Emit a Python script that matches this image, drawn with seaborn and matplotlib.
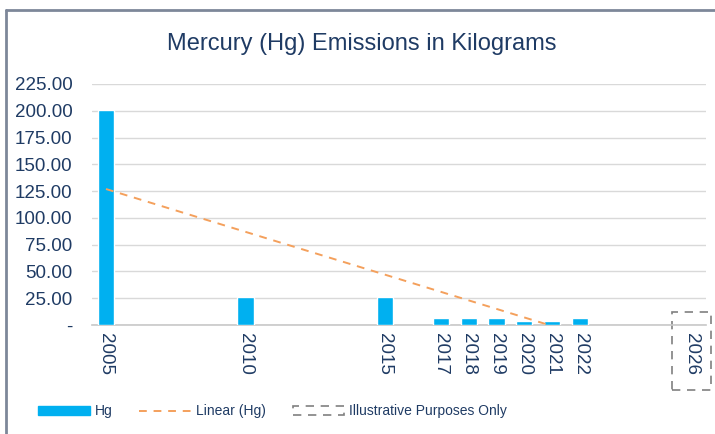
import numpy as np
import seaborn as sns
import matplotlib.pyplot as plt
from matplotlib.patches import Patch, Rectangle
from matplotlib.lines import Line2D
from matplotlib.ticker import FuncFormatter
import matplotlib.transforms as mtransforms

# data
years = [2005, 2010, 2015, 2017, 2018, 2019, 2020, 2021, 2022]
hg_kg = [200.6, 26.5, 26.5, 6.2, 6.2, 6.2, 3.8, 3.8, 6.2]
target_year = 2026
target_kg = 0.0
tick_years = years + [target_year]

navy = "#1f3b64"
bar_blue = "#00b0f0"
trend_orange = "#f4a05c"

sns.set_style("white")
plt.rcParams['font.family'] = ['Liberation Sans', 'DejaVu Sans']

fig = plt.figure(figsize=(7.15, 4.34), dpi=100)
ax = fig.add_axes([0.1287, 0.2512, 0.8583, 0.5553])

sns.barplot(x=years, y=hg_kg, native_scale=True, width=0.58, color=bar_blue,
            saturation=1, ax=ax, zorder=3)

# Excel-style linear trendline (includes the 2026 target point), clipped at zero
fit_x = np.array(years + [target_year], dtype=float)
fit_y = np.array(hg_kg + [target_kg])
slope, icpt = np.polyfit(fit_x, fit_y, 1)
x_zero = -icpt / slope
trend_x = np.array([years[0], x_zero])
sns.lineplot(x=trend_x, y=slope * trend_x + icpt, ax=ax, color=trend_orange,
             linewidth=1.4, linestyle=(0, (4, 3.5)), zorder=4)

ax.set_xlim(2004.5, 2026.5)
ax.set_ylim(0, 225)
ax.set_yticks(np.arange(0, 226, 25))
ax.yaxis.set_major_formatter(FuncFormatter(lambda v, p: "-" if v == 0 else f"{v:.2f}"))
ax.set_xticks(tick_years)
ax.set_xticklabels([str(y) for y in tick_years], rotation=-90)
ax.tick_params(axis='both', length=0, labelcolor=navy)
ax.tick_params(axis='y', pad=14, labelsize=13.5)
ax.tick_params(axis='x', pad=6, labelsize=13.5)
ax.grid(axis='y', color="#d9d9d9", linewidth=1, zorder=0)
for s in ['top', 'right', 'left']:
    ax.spines[s].set_visible(False)
ax.spines['bottom'].set_color("#c8c8c8")
ax.spines['bottom'].set_linewidth(1.2)
ax.set_xlabel("")
ax.set_ylabel("")

# dashed box around the illustrative 2026 slot
trans = mtransforms.blended_transform_factory(ax.transData, ax.transAxes)
ax.add_patch(Rectangle((target_year - 0.7, -0.27), 1.4, 0.325, transform=trans,
                       fill=False, edgecolor="#808080", linestyle=(0, (5, 4)),
                       linewidth=1.2, clip_on=False))

fig.text(0.506, 0.898, "Mercury (Hg) Emissions in Kilograms", ha='center', va='center',
         fontsize=17, color=navy)

handles = [Patch(facecolor=bar_blue, edgecolor=bar_blue),
           Line2D([0], [0], color=trend_orange, linewidth=1.4, linestyle=(0, (4, 3.5))),
           Patch(facecolor='none', edgecolor="#808080", linestyle=(0, (5, 4)), linewidth=1.2)]
fig.legend(handles, ["Hg", "Linear (Hg)", "Illustrative Purposes Only"], ncol=3,
           loc='center left', bbox_to_anchor=(0.036, 0.052), frameon=False,
           fontsize=10, labelcolor=navy,
           handlelength=3.7, handleheight=0.55, handletextpad=0.35, columnspacing=1.95)

# chart border (top and left edges visible in the crop)
fig.add_artist(Line2D([0.009, 0.009], [0, 0.977], color="#7d8799", linewidth=2))
fig.add_artist(Line2D([0.008, 1.0], [0.977, 0.977], color="#7d8799", linewidth=2))

plt.savefig("out.png", dpi=100)
